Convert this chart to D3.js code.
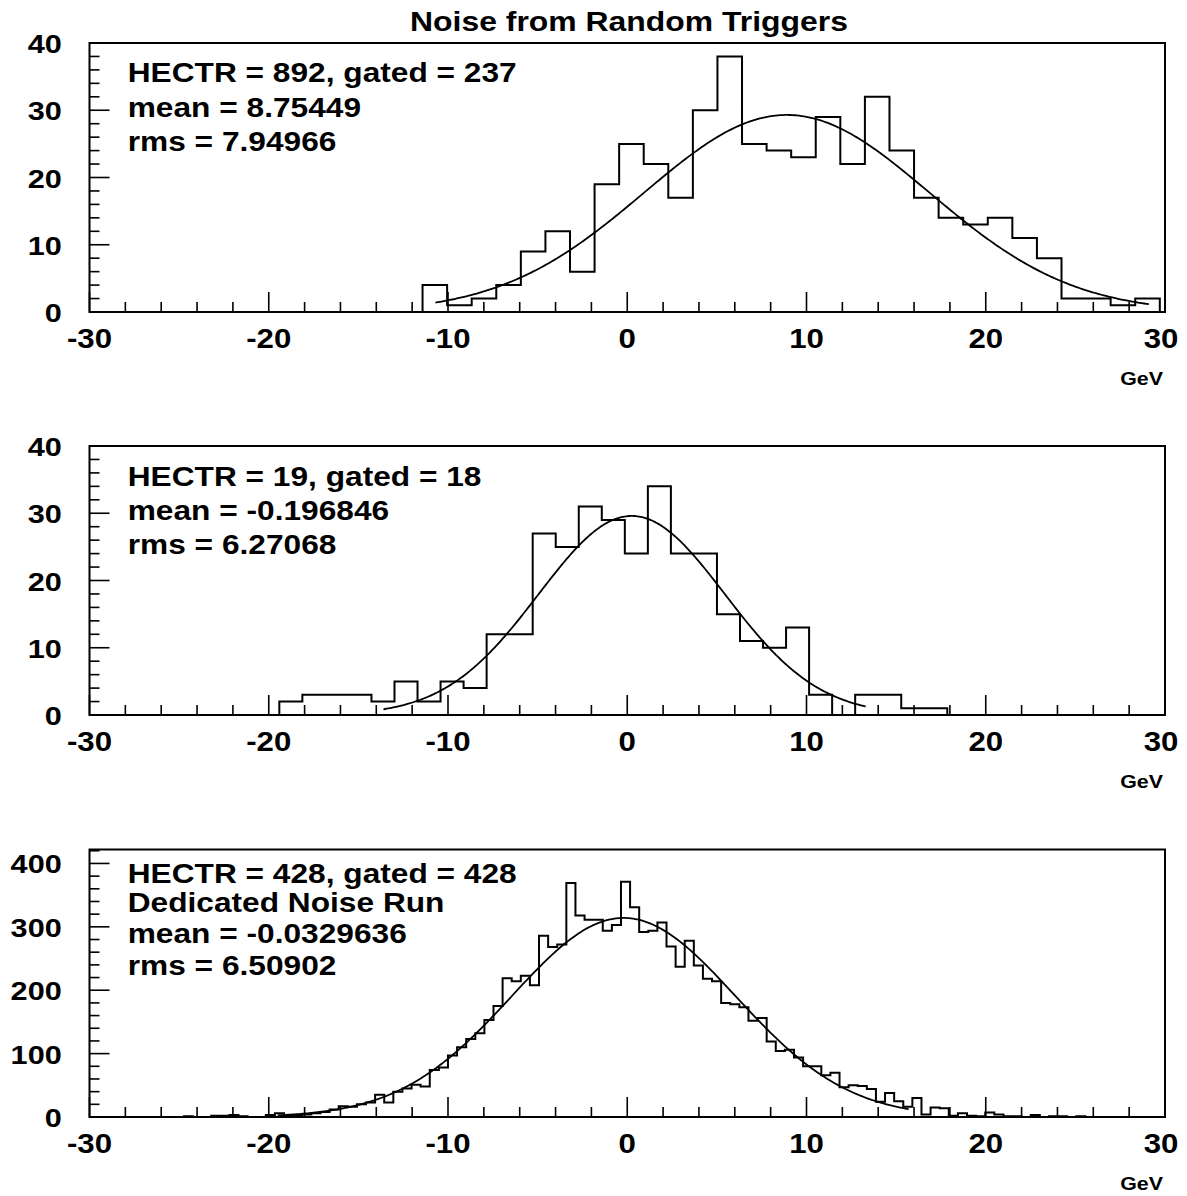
<!DOCTYPE html>
<html>
<head>
<meta charset="utf-8">
<script src="https://cdn.jsdelivr.net/npm/d3@7"></script>
<style>
  body { margin: 0; background: #fff; }
  text { font-family: "Liberation Sans", Arial, Helvetica, sans-serif; font-weight: bold; fill: #000; }
</style>
</head>
<body>
<svg id="chart" width="1187" height="1196"></svg>
<script>
// ---- values ----
const title = "Noise from Random Triggers";
const xTicks = [-30, -20, -10, 0, 10, 20, 30];

// top: random triggers, HECTR 892
const p1Start = -11.42, p1Width = 1.371;
const p1Counts = [4, 1, 2, 4, 9, 12, 6, 19, 25, 22, 17, 30, 38, 25, 24, 23, 29, 22, 32, 24,
  17, 14, 13, 14, 11, 8, 2, 2, 1, 2];
const p1Fit = [29.3, 8.9, 7.95, -10.7, 29.1]; // amp, mean, sigma, from, to
const p1YTicks = [0, 10, 20, 30, 40];
const p1Text = ["HECTR = 892, gated = 237", "mean = 8.75449", "rms = 7.94966"];

// middle: random triggers, HECTR 19
const p2Start = -19.41, p2Width = 1.285;
const p2Counts = [2, 3, 3, 3, 2, 5, 2, 5, 4, 12, 12, 27, 25, 31, 29, 24, 34, 24, 24, 15,
  11, 10, 13, 3, 0, 3, 3, 1, 1];
const p2Fit = [29.6, 0.25, 5.2, -13.6, 13.3];
const p2YTicks = [0, 10, 20, 30, 40];
const p2Text = ["HECTR = 19, gated = 18", "mean = -0.196846", "rms = 6.27068"];

// bottom: dedicated noise run
const p3Start = -25.75, p3Width = 0.508;
const p3Counts = [0, 0, 1, 0, 0, 2, 2, 3, 1, 0, 0, 3, 6, 2, 3, 4, 6, 8, 12, 17,
  16, 20, 23, 35, 23, 40, 45, 51, 48, 74, 78, 97, 110, 123, 132, 153, 175, 219, 214, 223,
  208, 286, 268, 272, 369, 318, 311, 311, 294, 303, 371, 331, 292, 294, 307, 269, 237, 278, 239, 218,
  214, 180, 178, 173, 152, 156, 119, 104, 106, 94, 80, 80, 66, 70, 47, 50, 49, 44, 24, 38,
  25, 16, 30, 4, 15, 14, 2, 6, 2, 1, 7, 4, 1, 1, 0, 3, 0, 1, 1, 0, 1];
const p3Fit = [314, -0.2, 6.25, -19.5, 15.7];
const p3YTicks = [0, 100, 200, 300, 400];
const p3Text = ["HECTR = 428, gated = 428", "Dedicated Noise Run", "mean = -0.0329636", "rms = 6.50902"];

// ---- layout ----
const SX = 1.156; // the original picture is stretched sideways
const xLeft = 89.5, xRight = 1165;
const svg = d3.select("#chart");

const panels = [
  { start: p1Start, width: p1Width, counts: p1Counts, fit: p1Fit, yTicks: p1YTicks, yMax: 40, yMinor: 2,
    text: p1Text, textY: [82, 116.5, 151], top: 43, bottom: 312 },
  { start: p2Start, width: p2Width, counts: p2Counts, fit: p2Fit, yTicks: p2YTicks, yMax: 40, yMinor: 2,
    text: p2Text, textY: [486, 520, 554], top: 446, bottom: 715 },
  { start: p3Start, width: p3Width, counts: p3Counts, fit: p3Fit, yTicks: p3YTicks, yMax: 422, yMinor: 20,
    text: p3Text, textY: [883, 912, 943, 975], top: 849.5, bottom: 1117 },
];

function label(g, str, px, py, size, anchor) {
  g.append("text")
    .attr("transform", `translate(${px},${py}) scale(${SX},1)`)
    .attr("text-anchor", anchor)
    .style("font-size", size + "px")
    .text(str);
}

label(svg, title, 629, 31, 27.6, "middle");

function drawPanel(p) {
  const g = svg.append("g");
  const x = d3.scaleLinear().domain([-30, 30]).range([xLeft, xRight]);
  const y = d3.scaleLinear().domain([0, p.yMax]).range([p.bottom, p.top]);

  // x ticks: majors every 10, minors every 2, pointing up from the bottom
  d3.range(-30, 30.001, 2).forEach((v) => {
    const major = xTicks.includes(Math.round(v));
    g.append("line")
      .attr("x1", x(v)).attr("x2", x(v))
      .attr("y1", p.bottom).attr("y2", p.bottom - (major ? 20 : 10))
      .attr("stroke", "#000").attr("stroke-width", 1.6);
  });
  xTicks.forEach((v) => label(g, String(v), v === 30 ? x(v) - 4 : x(v), p.bottom + 36, 27, "middle"));
  label(g, "GeV", 1163, p.bottom + 73, 18.5, "end");

  // y ticks
  const yMajorStep = p.yTicks[1] - p.yTicks[0];
  d3.range(0, p.yMax + 0.001, p.yMinor).forEach((v) => {
    const major = Math.abs(v % yMajorStep) < 1e-6;
    g.append("line")
      .attr("x1", xLeft).attr("x2", xLeft + (major ? 20 : 10))
      .attr("y1", y(v)).attr("y2", y(v))
      .attr("stroke", "#000").attr("stroke-width", 1.6);
  });
  p.yTicks.forEach((v) => label(g, String(v), 61.7, y(v) + 10, 26.5, "end"));

  // histogram outline
  const n = p.counts.length;
  const pts = [[p.start, 0]];
  p.counts.forEach((c, i) => {
    pts.push([p.start + i * p.width, c], [p.start + (i + 1) * p.width, c]);
  });
  pts.push([p.start + n * p.width, 0]);
  const line = d3.line().x((d) => x(d[0])).y((d) => y(d[1]));
  g.append("path").attr("d", line(pts))
    .attr("fill", "none").attr("stroke", "#000").attr("stroke-width", 2);

  // gaussian fit
  const [amp, mean, sigma, from, to] = p.fit;
  const fx = d3.range(from, to, (to - from) / 300).concat([to]);
  const fitPts = fx.map((v) => [v, amp * Math.exp(-((v - mean) ** 2) / (2 * sigma * sigma))]);
  g.append("path").attr("d", d3.line().x((d) => x(d[0])).y((d) => y(d[1]))(fitPts))
    .attr("fill", "none").attr("stroke", "#000").attr("stroke-width", 1.8);

  // frame
  g.append("rect")
    .attr("x", xLeft).attr("y", p.top)
    .attr("width", xRight - xLeft).attr("height", p.bottom - p.top)
    .attr("fill", "none").attr("stroke", "#000").attr("stroke-width", 2);

  // stats text
  p.text.forEach((s, i) => label(g, s, 127.7, p.textY[i], 27.4, "start"));
}

panels.forEach(drawPanel);
</script>
</body>
</html>
